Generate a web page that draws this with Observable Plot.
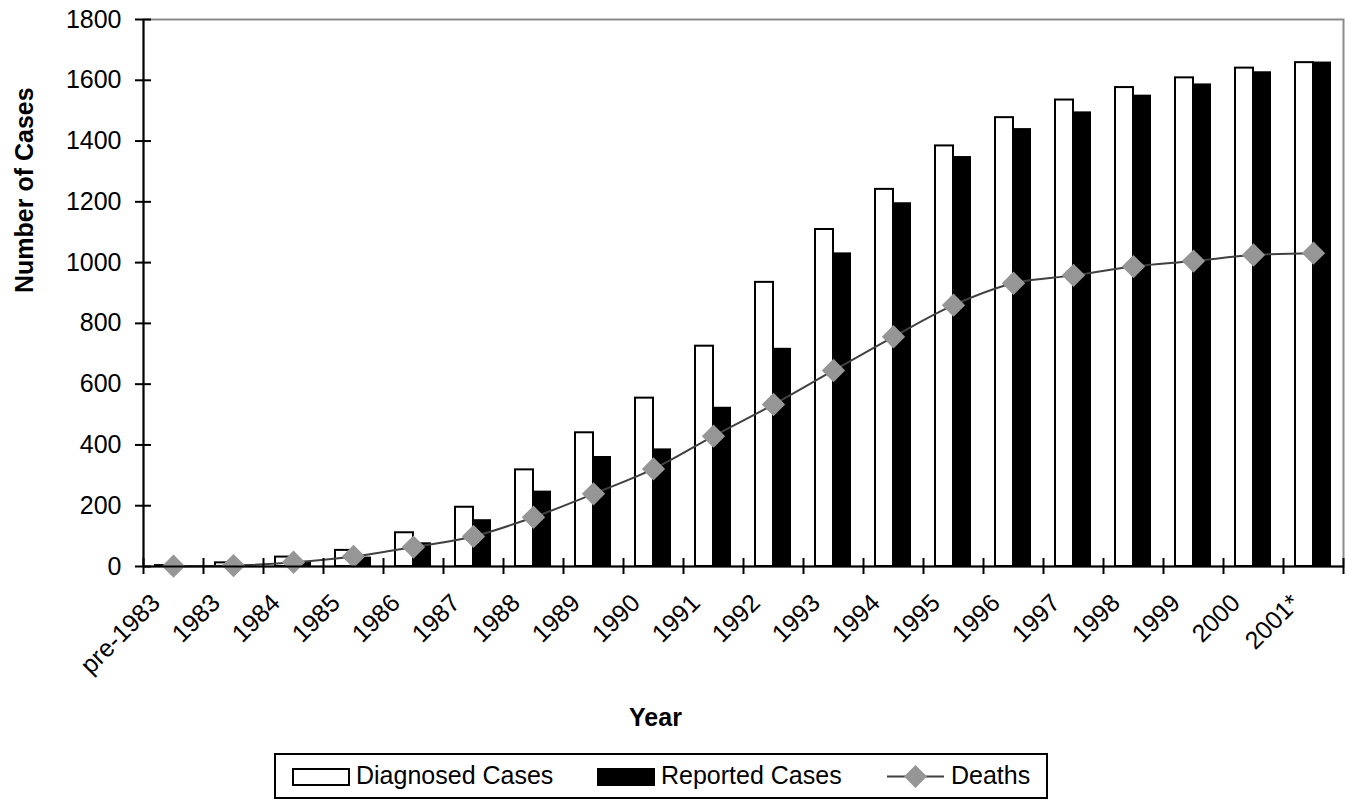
<!DOCTYPE html>
<html>
<head>
<meta charset="utf-8">
<script src="https://cdn.jsdelivr.net/npm/d3@7"></script>
<script src="https://cdn.jsdelivr.net/npm/@observablehq/plot@0.6"></script>
<style>
  html, body { margin: 0; padding: 0; background: white; }
  #chart { position: relative; width: 1351px; height: 801px; font-family: "Liberation Sans", Arial, sans-serif; }
  #chart svg { display: block; }
</style>
</head>
<body>
<div id="chart"></div>
<script>
const years = ["pre-1983","1983","1984","1985","1986","1987","1988","1989","1990","1991","1992","1993","1994","1995","1996","1997","1998","1999","2000","2001*"];
const diagnosed = [3, 12, 31, 53, 111, 195, 318, 440, 554, 725, 935, 1109, 1241, 1384, 1477, 1535, 1576, 1608, 1640, 1658];
const reported  = [1, 5, 16, 31, 78, 154, 248, 362, 387, 524, 718, 1032, 1197, 1349, 1441, 1496, 1551, 1588, 1628, 1660];
const deaths    = [1, 3, 14, 33, 64, 99, 162, 239, 321, 429, 533, 645, 756, 860, 932, 958, 987, 1005, 1025, 1031];
const yTicks = [0, 200, 400, 600, 800, 1000, 1200, 1400, 1600, 1800];
const seriesNames = ["Diagnosed Cases", "Reported Cases", "Deaths"];

const rows = years.map((year, i) => ({i, year, diagnosed: diagnosed[i], reported: reported[i], deaths: deaths[i]}));
const xDomain = [-0.5, years.length - 0.5];
const boundaries = d3.range(years.length + 1).map(k => k - 0.5);
const half = 0.3;

const plot = Plot.plot({
  width: 1351,
  height: 750,
  marginLeft: 143,
  marginRight: 8,
  marginTop: 19,
  marginBottom: 184,
  style: {fontFamily: "'Liberation Sans', Arial, sans-serif", fontSize: "25px", background: "white", color: "black"},
  x: {type: "linear", domain: xDomain},
  y: {domain: [0, 1800]},
  marks: [
    Plot.frame({stroke: "#8a8a8a", strokeWidth: 2}),
    Plot.rect(rows, {x1: d => d.i - half, x2: "i", y1: 0, y2: "diagnosed", fill: "white", stroke: "black", strokeWidth: 2}),
    Plot.rect(rows, {x1: "i", x2: d => d.i + half, y1: 0, y2: "reported", fill: "black"}),
    Plot.line(rows, {x: "i", y: "deaths", curve: "catmull-rom", stroke: "#404040", strokeWidth: 2}),
    Plot.dot(rows, {x: "i", y: "deaths", symbol: "diamond2", r: 10.5, fill: "#969696", stroke: "none"}),
    Plot.ruleY([0], {stroke: "black", strokeWidth: 2}),
    Plot.ruleX([xDomain[0]], {stroke: "black", strokeWidth: 2}),
    Plot.axisY({ticks: yTicks, tickSize: 16, dx: 8, tickPadding: 14, tickFormat: d => String(d), label: null, strokeWidth: 2, fontSize: 25}),
    Plot.axisX({ticks: boundaries, tickSize: 16, dy: -8, tickFormat: () => "", label: null, strokeWidth: 2}),
    Plot.text(rows, {x: "i", text: "year", frameAnchor: "bottom", rotate: -45, textAnchor: "end", lineAnchor: "bottom", dx: -12, dy: 38, fontSize: 25}),
    Plot.text(["Year"], {frameAnchor: "bottom", dx: -88, dy: 159, lineAnchor: "bottom", fontWeight: "bold", fontSize: 25}),
    Plot.text(["Number of Cases"], {frameAnchor: "left", dx: -119, rotate: -90, fontWeight: "bold", fontSize: 25})
  ]
});
document.getElementById("chart").appendChild(plot);

// Legend below the plot
const lg = d3.create("svg").attr("width", 1351).attr("height", 51)
  .style("font-family", "'Liberation Sans', Arial, sans-serif");
lg.append("rect").attr("x", 275).attr("y", 4).attr("width", 772).attr("height", 44)
  .attr("fill", "white").attr("stroke", "black").attr("stroke-width", 2);
const items = [
  {name: seriesNames[0], sx: 292, tx: 356, kind: "white"},
  {name: seriesNames[1], sx: 597, tx: 661, kind: "black"},
  {name: seriesNames[2], sx: 887, tx: 951, kind: "line"}
];
for (const it of items) {
  if (it.kind === "line") {
    lg.append("line").attr("x1", it.sx).attr("x2", it.sx + 57).attr("y1", 26.5).attr("y2", 26.5)
      .attr("stroke", "#404040").attr("stroke-width", 2);
    const cx = it.sx + 28.5, cy = 26.5, h = 11.5;
    lg.append("path").attr("d", `M${cx},${cy - h}L${cx + h},${cy}L${cx},${cy + h}L${cx - h},${cy}Z`).attr("fill", "#969696");
  } else {
    lg.append("rect").attr("x", it.sx + 1).attr("y", 19).attr("width", 56).attr("height", 16)
      .attr("fill", it.kind).attr("stroke", "black").attr("stroke-width", 2);
  }
  lg.append("text").attr("x", it.tx).attr("y", 34).attr("font-size", 25).attr("fill", "black").text(it.name);
}
document.getElementById("chart").appendChild(lg.node());
</script>
</body>
</html>
